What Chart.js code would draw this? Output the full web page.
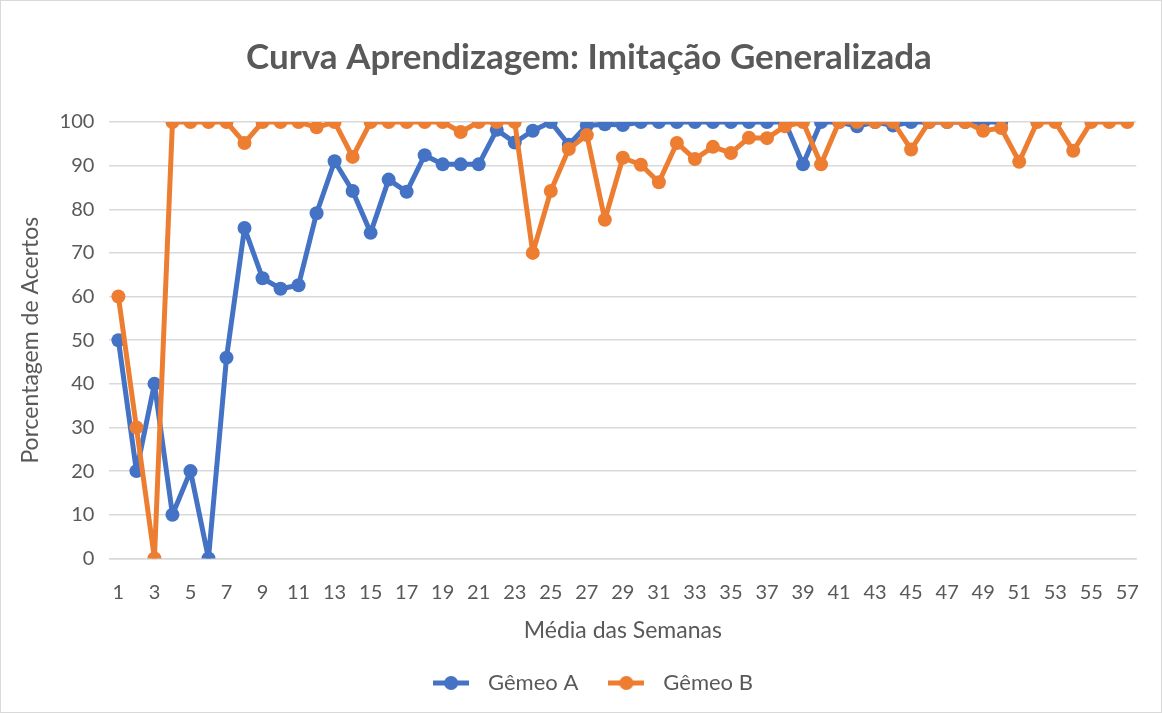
<!DOCTYPE html>
<html>
<head>
<meta charset="utf-8">
<script src="https://cdn.jsdelivr.net/npm/chart.js@4"></script>
<style>
    html, body { margin: 0; padding: 0; background: #ffffff; }
    #wrap { position: relative; width: 1160px; height: 711px; border: 1px solid #d9d9d9; }
</style>
</head>
<body>
<div id="wrap"><canvas id="chart"></canvas></div>
<script>
// Semanas (categorias do eixo X)
const semanas = ['1','2','3','4','5','6','7','8','9','10','11','12','13','14','15','16','17','18','19','20',
    '21','22','23','24','25','26','27','28','29','30','31','32','33','34','35','36','37','38','39','40',
    '41','42','43','44','45','46','47','48','49','50','51','52','53','54','55','56','57'];

// Gêmeo A (termina na semana 50)
const gemeoA = [50, 20, 40, 10, 20, 0, 46, 75.7, 64.2, 61.8, 62.6, 79.1, 91, 84.2, 74.6, 86.8, 84, 92.4, 90.3, 90.3,
    90.3, 98.2, 95.3, 98, 100, 94.8, 99.2, 99.5, 99.3, 100, 100, 100, 100, 100, 100, 100, 100, 100, 90.3, 100,
    100, 99, 100, 99.2, 100, 100, 100, 100, 100, 100];

// Gêmeo B
const gemeoB = [60, 30, 0, 100, 100, 100, 100, 95.2, 100, 100, 100, 98.8, 100, 92, 100, 100, 100, 100, 100, 97.7,
    100, 100, 100, 70, 84.2, 93.8, 97, 77.6, 91.8, 90.2, 86.2, 95.2, 91.5, 94.3, 92.9, 96.4, 96.3, 99, 100, 90.3,
    100, 100, 100, 100, 93.7, 100, 100, 100, 98, 98.6, 90.9, 100, 100, 93.4, 100, 100, 100];

const corA = '#4472C4';
const corB = '#ED7D31';
const textColor = '#595959';
const fontFamily = "Lato, 'Open Sans', sans-serif";

// legend marker: line with a dot, like the spreadsheet legend
function legendMarker(color) {
    const c = document.createElement('canvas');
    c.width = 36;
    c.height = 16;
    const ctx = c.getContext('2d');
    ctx.strokeStyle = color;
    ctx.lineWidth = 5;
    ctx.beginPath();
    ctx.moveTo(0, 8);
    ctx.lineTo(36, 8);
    ctx.stroke();
    ctx.fillStyle = color;
    ctx.beginPath();
    ctx.arc(18, 8, 7, 0, Math.PI * 2);
    ctx.fill();
    return c;
}

const ctx = document.getElementById('chart').getContext('2d');
new Chart(ctx, {
    type: 'line',
    data: {
        labels: semanas,
        datasets: [
            {
                label: 'Gêmeo A',
                data: gemeoA,
                borderColor: corA,
                backgroundColor: corA,
                borderWidth: 5,
                borderJoinStyle: 'round',
                borderCapStyle: 'round',
                pointRadius: 7,
                pointBorderWidth: 0,
                pointBackgroundColor: corA,
                tension: 0,
                order: 1
            },
            {
                label: 'Gêmeo B',
                data: gemeoB,
                borderColor: corB,
                backgroundColor: corB,
                borderWidth: 5,
                borderJoinStyle: 'round',
                borderCapStyle: 'round',
                pointRadius: 7,
                pointBorderWidth: 0,
                pointBackgroundColor: corB,
                tension: 0,
                order: 0
            }
        ]
    },
    options: {
        responsive: true,
        maintainAspectRatio: false,
        animation: false,
        layout: {
            padding: { left: 28, right: 12, top: 14, bottom: 8 }
        },
        plugins: {
            title: {
                display: true,
                text: 'Curva Aprendizagem: Imitação Generalizada',
                color: textColor,
                font: { size: 35, weight: 'bold', family: fontFamily },
                padding: { top: 22, bottom: 43 }
            },
            legend: {
                position: 'bottom',
                labels: {
                    color: textColor,
                    font: { size: 22, family: fontFamily },
                    usePointStyle: true,
                    pointStyleWidth: 52,
                    padding: 22,
                    sort: (a, b) => a.datasetIndex - b.datasetIndex,
                    generateLabels: function(chart) {
                        return chart.data.datasets.map((ds, i) => ({
                            text: ds.label,
                            fontColor: textColor,
                            pointStyle: legendMarker(ds.borderColor),
                            datasetIndex: i,
                            hidden: false,
                            lineWidth: 0
                        }));
                    }
                }
            },
            tooltip: { enabled: false }
        },
        scales: {
            x: {
                offset: true,
                grid: { display: false, drawTicks: false },
                border: { display: true, color: '#d9d9d9', width: 1.5 },
                ticks: {
                    color: textColor,
                    font: { size: 20, family: fontFamily },
                    autoSkip: false,
                    maxRotation: 0,
                    padding: 22,
                    callback: function(value, index) {
                        return index % 2 === 0 ? semanas[index] : '';
                    }
                },
                title: {
                    display: true,
                    text: 'Média das Semanas',
                    color: textColor,
                    font: { size: 23, family: fontFamily },
                    padding: { top: -10, bottom: 6 }
                }
            },
            y: {
                min: 0,
                max: 100,
                grid: { color: '#d9d9d9', lineWidth: 1.5, drawTicks: false },
                border: { display: false },
                ticks: {
                    stepSize: 10,
                    color: textColor,
                    font: { size: 20, family: fontFamily },
                    padding: 15
                },
                title: {
                    display: true,
                    text: 'Porcentagem de Acertos',
                    color: textColor,
                    font: { size: 23, family: fontFamily },
                    padding: { top: -12, bottom: 0 }
                }
            }
        }
    }
});
</script>
</body>
</html>
